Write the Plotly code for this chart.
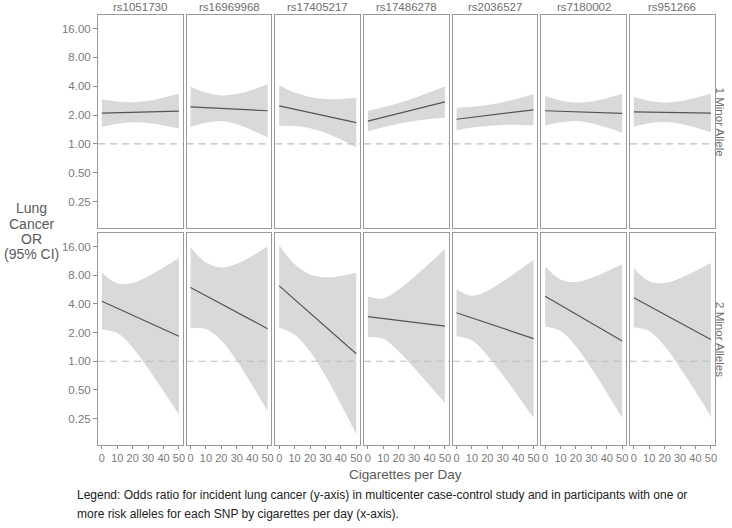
import plotly.graph_objects as go

# ---------------- data ----------------
snps = ["rs1051730", "rs16969968", "rs17405217", "rs17486278", "rs2036527", "rs7180002", "rs951266"]
row_labels = ["1 Minor Allele", "2 Minor Alleles"]
x_cig = [0, 10, 20, 30, 40, 50]
x_line = [0, 50]

# 1 minor allele: fitted OR at 0 and 50 cigarettes/day
or1_line = [[2.10, 2.20], [2.44, 2.22], [2.50, 1.67], [1.73, 2.75], [1.81, 2.27], [2.22, 2.08], [2.16, 2.10]]
or1_upper = [
    [2.93, 2.77, 2.73, 2.83, 3.04, 3.34],
    [3.96, 3.44, 3.21, 3.31, 3.67, 4.19],
    [4.06, 3.45, 3.09, 2.94, 2.94, 3.03],
    [2.22, 2.41, 2.67, 3.02, 3.46, 4.00],
    [2.38, 2.44, 2.55, 2.73, 2.98, 3.29],
    [3.16, 2.84, 2.70, 2.77, 3.00, 3.31],
    [3.09, 2.82, 2.70, 2.78, 3.01, 3.33],
]
or1_lower = [
    [1.50, 1.62, 1.68, 1.65, 1.56, 1.45],
    [1.50, 1.66, 1.72, 1.60, 1.39, 1.17],
    [1.54, 1.54, 1.46, 1.31, 1.11, 0.92],
    [1.35, 1.49, 1.62, 1.73, 1.82, 1.89],
    [1.38, 1.48, 1.54, 1.58, 1.58, 1.57],
    [1.56, 1.68, 1.73, 1.64, 1.48, 1.31],
    [1.51, 1.64, 1.69, 1.62, 1.48, 1.32],
]

# 2 minor alleles
or2_line = [[4.28, 1.83], [5.95, 2.20], [6.20, 1.20], [2.94, 2.34], [3.24, 1.73], [4.83, 1.63], [4.65, 1.69]]
or2_upper = [
    [8.50, 6.58, 6.69, 7.84, 9.68, 12.2],
    [15.9, 10.9, 9.69, 10.6, 12.8, 16.1],
    [16.6, 10.5, 8.15, 7.63, 7.87, 8.50],
    [4.79, 4.58, 5.68, 7.70, 10.7, 15.1],
    [5.73, 4.89, 5.49, 6.88, 8.93, 11.7],
    [10.0, 7.24, 6.82, 7.52, 8.79, 10.5],
    [9.49, 6.93, 6.65, 7.47, 8.90, 10.8],
]
or2_lower = [
    [2.16, 1.98, 1.39, 0.84, 0.485, 0.274],
    [2.23, 2.18, 1.65, 1.01, 0.56, 0.30],
    [2.25, 1.90, 1.27, 0.705, 0.354, 0.171],
    [1.80, 1.72, 1.27, 0.855, 0.56, 0.364],
    [1.83, 1.66, 1.15, 0.718, 0.43, 0.255],
    [2.32, 2.08, 1.43, 0.843, 0.467, 0.253],
    [2.28, 2.08, 1.44, 0.856, 0.48, 0.263],
]

y_tickvals = [0.25, 0.5, 1, 2, 4, 8, 16]
y_ticktext = ["0.25", "0.50", "1.00", "2.00", "4.00", "8.00", "16.00"]
x_tickvals = [0, 10, 20, 30, 40, 50]
reference_or = 1

# ---------------- layout helpers ----------------
W, H = 732, 528
FONT = "Liberation Sans, Arial, sans-serif"
GREY_TXT = "#7a7a7a"
BORDER = "#9a9a9a"
RIBBON = "rgb(217,217,217)"
LINE = "#555555"

panel_left0, panel_w, panel_step = 98.3, 85.0, 88.9
rows_px = [(15.0, 228.3), (233.3, 445.0)]
y_range = [-0.880, 1.345]
x_range = [-2.5, 52.5]

fig = go.Figure()
layout = dict(
    width=W, height=H, margin=dict(l=0, r=0, t=0, b=0),
    paper_bgcolor="white", plot_bgcolor="white", showlegend=False,
    font=dict(family=FONT, color=GREY_TXT, size=11.5),
)
annotations = []
shapes = []

data_rows = [(or1_line, or1_upper, or1_lower), (or2_line, or2_upper, or2_lower)]
k = 0
for r, (lines, uppers, lowers) in enumerate(data_rows):
    top, bot = rows_px[r]
    for c, snp in enumerate(snps):
        k += 1
        xa = "x" if k == 1 else f"x{k}"
        ya = "y" if k == 1 else f"y{k}"
        left = panel_left0 + c * panel_step
        right = left + panel_w
        xd = [left / W, right / W]
        yd = [1 - bot / H, 1 - top / H]
        layout["xaxis" if k == 1 else f"xaxis{k}"] = dict(
            domain=xd, anchor=ya, range=x_range, showgrid=False, zeroline=False,
            showline=True, mirror=True, linecolor=BORDER, linewidth=1,
            tickvals=x_tickvals, ticks="outside" if r == 1 else "", ticklen=3,
            tickcolor="#8c8c8c", showticklabels=(r == 1), ticklabelstandoff=0,
            tickfont=dict(size=11, color=GREY_TXT, family=FONT),
        )
        layout["yaxis" if k == 1 else f"yaxis{k}"] = dict(
            domain=yd, anchor=xa, type="log", range=y_range, showgrid=False,
            zeroline=False, showline=True, mirror=True, linecolor=BORDER, linewidth=1,
            tickvals=y_tickvals, ticktext=y_ticktext,
            ticks="outside" if c == 0 else "", ticklen=4, tickcolor="#8c8c8c",
            showticklabels=(c == 0),
            tickfont=dict(size=11.5, color=GREY_TXT, family=FONT),
        )
        # ribbon
        fig.add_trace(go.Scatter(x=x_cig, y=lowers[c], xaxis=xa, yaxis=ya, mode="lines",
                                 line=dict(width=0, shape="spline", color=RIBBON),
                                 hoverinfo="skip"))
        fig.add_trace(go.Scatter(x=x_cig, y=uppers[c], xaxis=xa, yaxis=ya, mode="lines",
                                 line=dict(width=0, shape="spline", color=RIBBON),
                                 fill="tonexty", fillcolor=RIBBON, hoverinfo="skip"))
        # reference line at OR = 1
        shapes.append(dict(type="line", xref=f"{xa} domain", yref=ya, x0=0, x1=1,
                           y0=reference_or, y1=reference_or, layer="above",
                           line=dict(color="#bdbdbd", width=1.2, dash="7px,5px")))
        # fitted line
        fig.add_trace(go.Scatter(x=x_line, y=lines[c], xaxis=xa, yaxis=ya, mode="lines",
                                 line=dict(color=LINE, width=1.2)))
        if r == 0:
            annotations.append(dict(text=snp, x=(left + right) / 2 / W, y=1 - 7.3 / H,
                                    xref="paper", yref="paper", showarrow=False,
                                    xanchor="center", yanchor="middle",
                                    font=dict(size=11.5, color="#6e6e6e", family=FONT)))
    annotations.append(dict(text=row_labels[r], x=722 / W, y=1 - (top + bot) / 2 / H,
                            xref="paper", yref="paper", showarrow=False, textangle=90,
                            xanchor="center", yanchor="middle",
                            font=dict(size=11.5, color="#6e6e6e", family=FONT)))

# y title (4 lines)
for i, t in enumerate(["Lung", "Cancer", "OR", "(95% CI)"]):
    annotations.append(dict(text=t, x=32 / W, y=1 - (208 + i * 15.5) / H, xref="paper",
                            yref="paper", showarrow=False, xanchor="center", yanchor="middle",
                            font=dict(size=14, color="#5a5a5a", family=FONT)))
# x title
annotations.append(dict(text="Cigarettes per Day", x=407 / W, y=1 - 474 / H, xref="paper",
                        yref="paper", showarrow=False, xanchor="center", yanchor="middle",
                        font=dict(size=13.5, color="#5a5a5a", family=FONT)))
# caption
caption = [
    "Legend: Odds ratio for incident lung cancer (y-axis) in multicenter case-control study and in participants with one or",
    "more risk alleles for each SNP by cigarettes per day (x-axis).",
]
for i, t in enumerate(caption):
    annotations.append(dict(text=t, x=75 / W, y=1 - (495 + i * 19) / H, xref="paper",
                            yref="paper", showarrow=False, xanchor="left", yanchor="middle",
                            font=dict(size=12, color="#222222",
                                      family="Liberation Sans Narrow, Liberation Sans, Arial")))

layout["annotations"] = annotations
layout["shapes"] = shapes
fig.update_layout(**layout)
fig.write_html("out.html", config={"displayModeBar": False},
               post_script="document.body.style.margin='0px';document.body.style.overflow='hidden';")
